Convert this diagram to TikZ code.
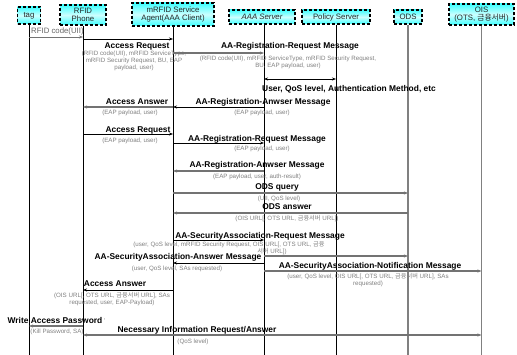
\documentclass[tikz,border=0pt]{standalone}
\usepackage{fontspec}
\setmainfont{Liberation Sans}
\newfontfamily\kr{Noto Sans CJK KR}
\usetikzlibrary{arrows.meta}
\newcommand{\ko}[1]{{\kr #1}}
\begin{document}
\begin{tikzpicture}[x=1pt,y=-1pt,
  hdr/.style={draw=black, line width=1.2pt, dash pattern=on 3pt off 2pt,
    top color=cyan!75, bottom color=cyan!75, middle color=cyan!20,
    align=center, inner sep=0.5pt, font=\fontsize{7.8}{8.4}\selectfont, text=black!85},
  life/.style={draw=black, line width=0.6pt},
  lifeg/.style={draw=gray, line width=1.2pt},
  tip/.style={-{Stealth[length=4pt,width=3pt]}},
  msgk/.style={draw=black, line width=0.6pt, tip},
  msgg/.style={draw=gray!90!black, line width=1.1pt, tip},
  lbl/.style={font=\fontsize{8.4}{9}\selectfont\bfseries, inner sep=0},
  sm/.style={font=\fontsize{6.2}{7}\selectfont, text=gray, align=center, inner sep=0}]
\useasboundingbox (0,0) rectangle (517,355);
\coordinate (bot) at (0,355);
% headers
\node[hdr, minimum width=23, minimum height=17] (tag) at (29,15.5) {tag};
\node[hdr, minimum width=46, minimum height=20] (phone) at (83,15) {RFID\\Phone};
\node[hdr, minimum width=82, minimum height=23] (agent) at (173,14.5) {mRFID Service\\Agent(AAA Client)};
\node[hdr, minimum width=66, minimum height=14] (aaa) at (262,17) {\itshape AAA Server};
\node[hdr, minimum width=68, minimum height=14] (pol) at (336,17) {Policy Server};
\node[hdr, minimum width=28, minimum height=14] (ods) at (408,17) {ODS};
\node[hdr, minimum width=65, minimum height=21] (ois) at (481.5,14.5) {OIS\\(OTS, \ko{금융서버})};
% lifelines
\coordinate (aaax) at (264,24);
\draw[life] (tag.south) -- (tag.south |- bot);
\draw[life] (phone.south) -- (phone.south |- bot);
\draw[life] (agent.south) -- (agent.south |- bot);
\draw[life] (aaa.south -| aaax) -- (aaax |- bot);
\draw[life] (pol.south) -- (pol.south |- bot);
\draw[lifeg] (ods.south) -- (ods.south |- bot);
\draw[lifeg] (ois.south) -- (ois.south |- bot);
% messages
\node[font=\fontsize{7.8}{8}\selectfont, text=gray!80!black, inner sep=0, anchor=west] (t0) at (31,31) {RFID code(UII)};
\draw[msgg, line width=0.8pt] (tag.south |- 0,37) -- (phone.south |- 0,37);

\draw[msgk] (phone.south |- 0,39) -- (agent.south |- 0,39);
\node[lbl] (t1) at (137,46) {Access Request};
\node[sm] (s1) at (134,61) {(RFID code(UII), mRFID ServiceType,\\mRFID Security Request, BU, EAP\\payload, user)};

\node[lbl] (t2) at (290,46) {AA-Registration-Request Message};
\draw[msgg] (agent.south |- 0,53) -- (aaax |- 0,53);
\node[sm] (s2) at (288,62.5) {(RFID code(UII), mRFID ServiceType, mRFID Security Request,\\BU, EAP payload, user)};

\draw[draw=black, line width=0.6pt, {Stealth[length=4pt,width=3pt]}-{Stealth[length=4pt,width=3pt]}] (aaax |- 0,79) -- (pol.south |- 0,79);
\node[lbl] (t3) at (349,89) {User, QoS level, Authentication Method, etc};

\node[lbl] (t4) at (263,102) {AA-Registration-Anwser Message};
\draw[msgk] (aaax |- 0,107) -- (agent.south |- 0,107);
\node[sm] (s4) at (262,113) {(EAP payload, user)};
\node[lbl] (t5) at (137,102) {Access Answer};
\draw[msgg] (agent.south |- 0,107) -- (phone.south |- 0,107);
\node[sm] (s5) at (130,113) {(EAP payload, user)};

\node[lbl] (t6) at (138,130) {Access Request};
\draw[msgk] (phone.south |- 0,134) -- (agent.south |- 0,134);
\node[sm] (s6) at (130,141) {(EAP payload, user)};

\node[lbl] (t7) at (257,139) {AA-Registration-Request Message};
\draw[msgk] (agent.south |- 0,143) -- (aaax |- 0,143);
\node[sm] (s7) at (262,149) {(EAP payload, user)};

\node[lbl] (t8) at (257,165) {AA-Registration-Anwser Message};
\draw[msgg] (aaax |- 0,171) -- (agent.south |- 0,171);
\node[sm] (s8) at (257,176.5) {(EAP payload, user, auth-result)};

\node[lbl] (t9) at (277,187) {ODS query};
\draw[msgg] (agent.south |- 0,193) -- (ods.south |- 0,193);
\node[sm] (s9) at (279,198.5) {(UII, QoS level)};

\node[lbl] (t10) at (287,207) {ODS answer};
\draw[msgg] (ods.south |- 0,213) -- (agent.south |- 0,213);
\node[sm] (s10) at (287,218.5) {(OIS URL[, OTS URL, \ko{금융서버} URL])};

\node[lbl] (t11) at (260,236) {AA-SecurityAssociation-Request Message};
\draw[msgk] (agent.south |- 0,240) -- (aaax |- 0,240);
\node[sm] (s11a) at (229,245) {(user, QoS level, mRFID Security Request, OIS URL[, OTS URL, \ko{금융}};
\node[sm] (s11b) at (272,251.5) {\ko{서버} URL])};
\draw[msgg] (aaax |- 0,256) -- (ods.south |- 0,256);

\node[lbl] (t12) at (178,257) {AA-SecurityAssociation-Answer Message};
\draw[msgk] (aaax |- 0,263) -- (agent.south |- 0,263);
\node[sm] (s12) at (177,269) {(user, QoS level, SAs requested)};

\node[lbl] (t13) at (370,266) {AA-SecurityAssociation-Notification Message};
\draw[msgg] (aaax |- 0,271) -- (ois.south |- 0,271);
\node[sm] (s13) at (368,280) {(user, QoS level, OIS URL[, OTS URL, \ko{금융서버} URL], SAs\\requested)};

\node[lbl] (t14) at (115,284) {Access Answer};
\draw[msgk] (agent.south |- 0,290) -- (phone.south |- 0,290);
\node[sm] (s14) at (112,299) {(OIS URL[, OTS URL, \ko{금융서버} URL], SAs\\requested, user, EAP-Payload)};

\node[lbl] (t15) at (55,320) {Write Access Password};
\node[sm, anchor=west] (t15c) at (t15.east) {\,,};
\draw[msgg] (phone.south |- 0,326) -- (tag.south |- 0,326);
\node[sm] (s15) at (57,331.5) {(Kill Password, SA)};

\node[lbl] (t16) at (197,330) {Necessary Information Request/Answer};
\draw[msgg, {Stealth[length=4pt,width=3pt]}-{Stealth[length=4pt,width=3pt]}] (phone.south |- 0,335) -- (ois.south |- 0,335);
\node[sm] (s16) at (193,341.5) {(QoS level)};
\end{tikzpicture}
\end{document}
